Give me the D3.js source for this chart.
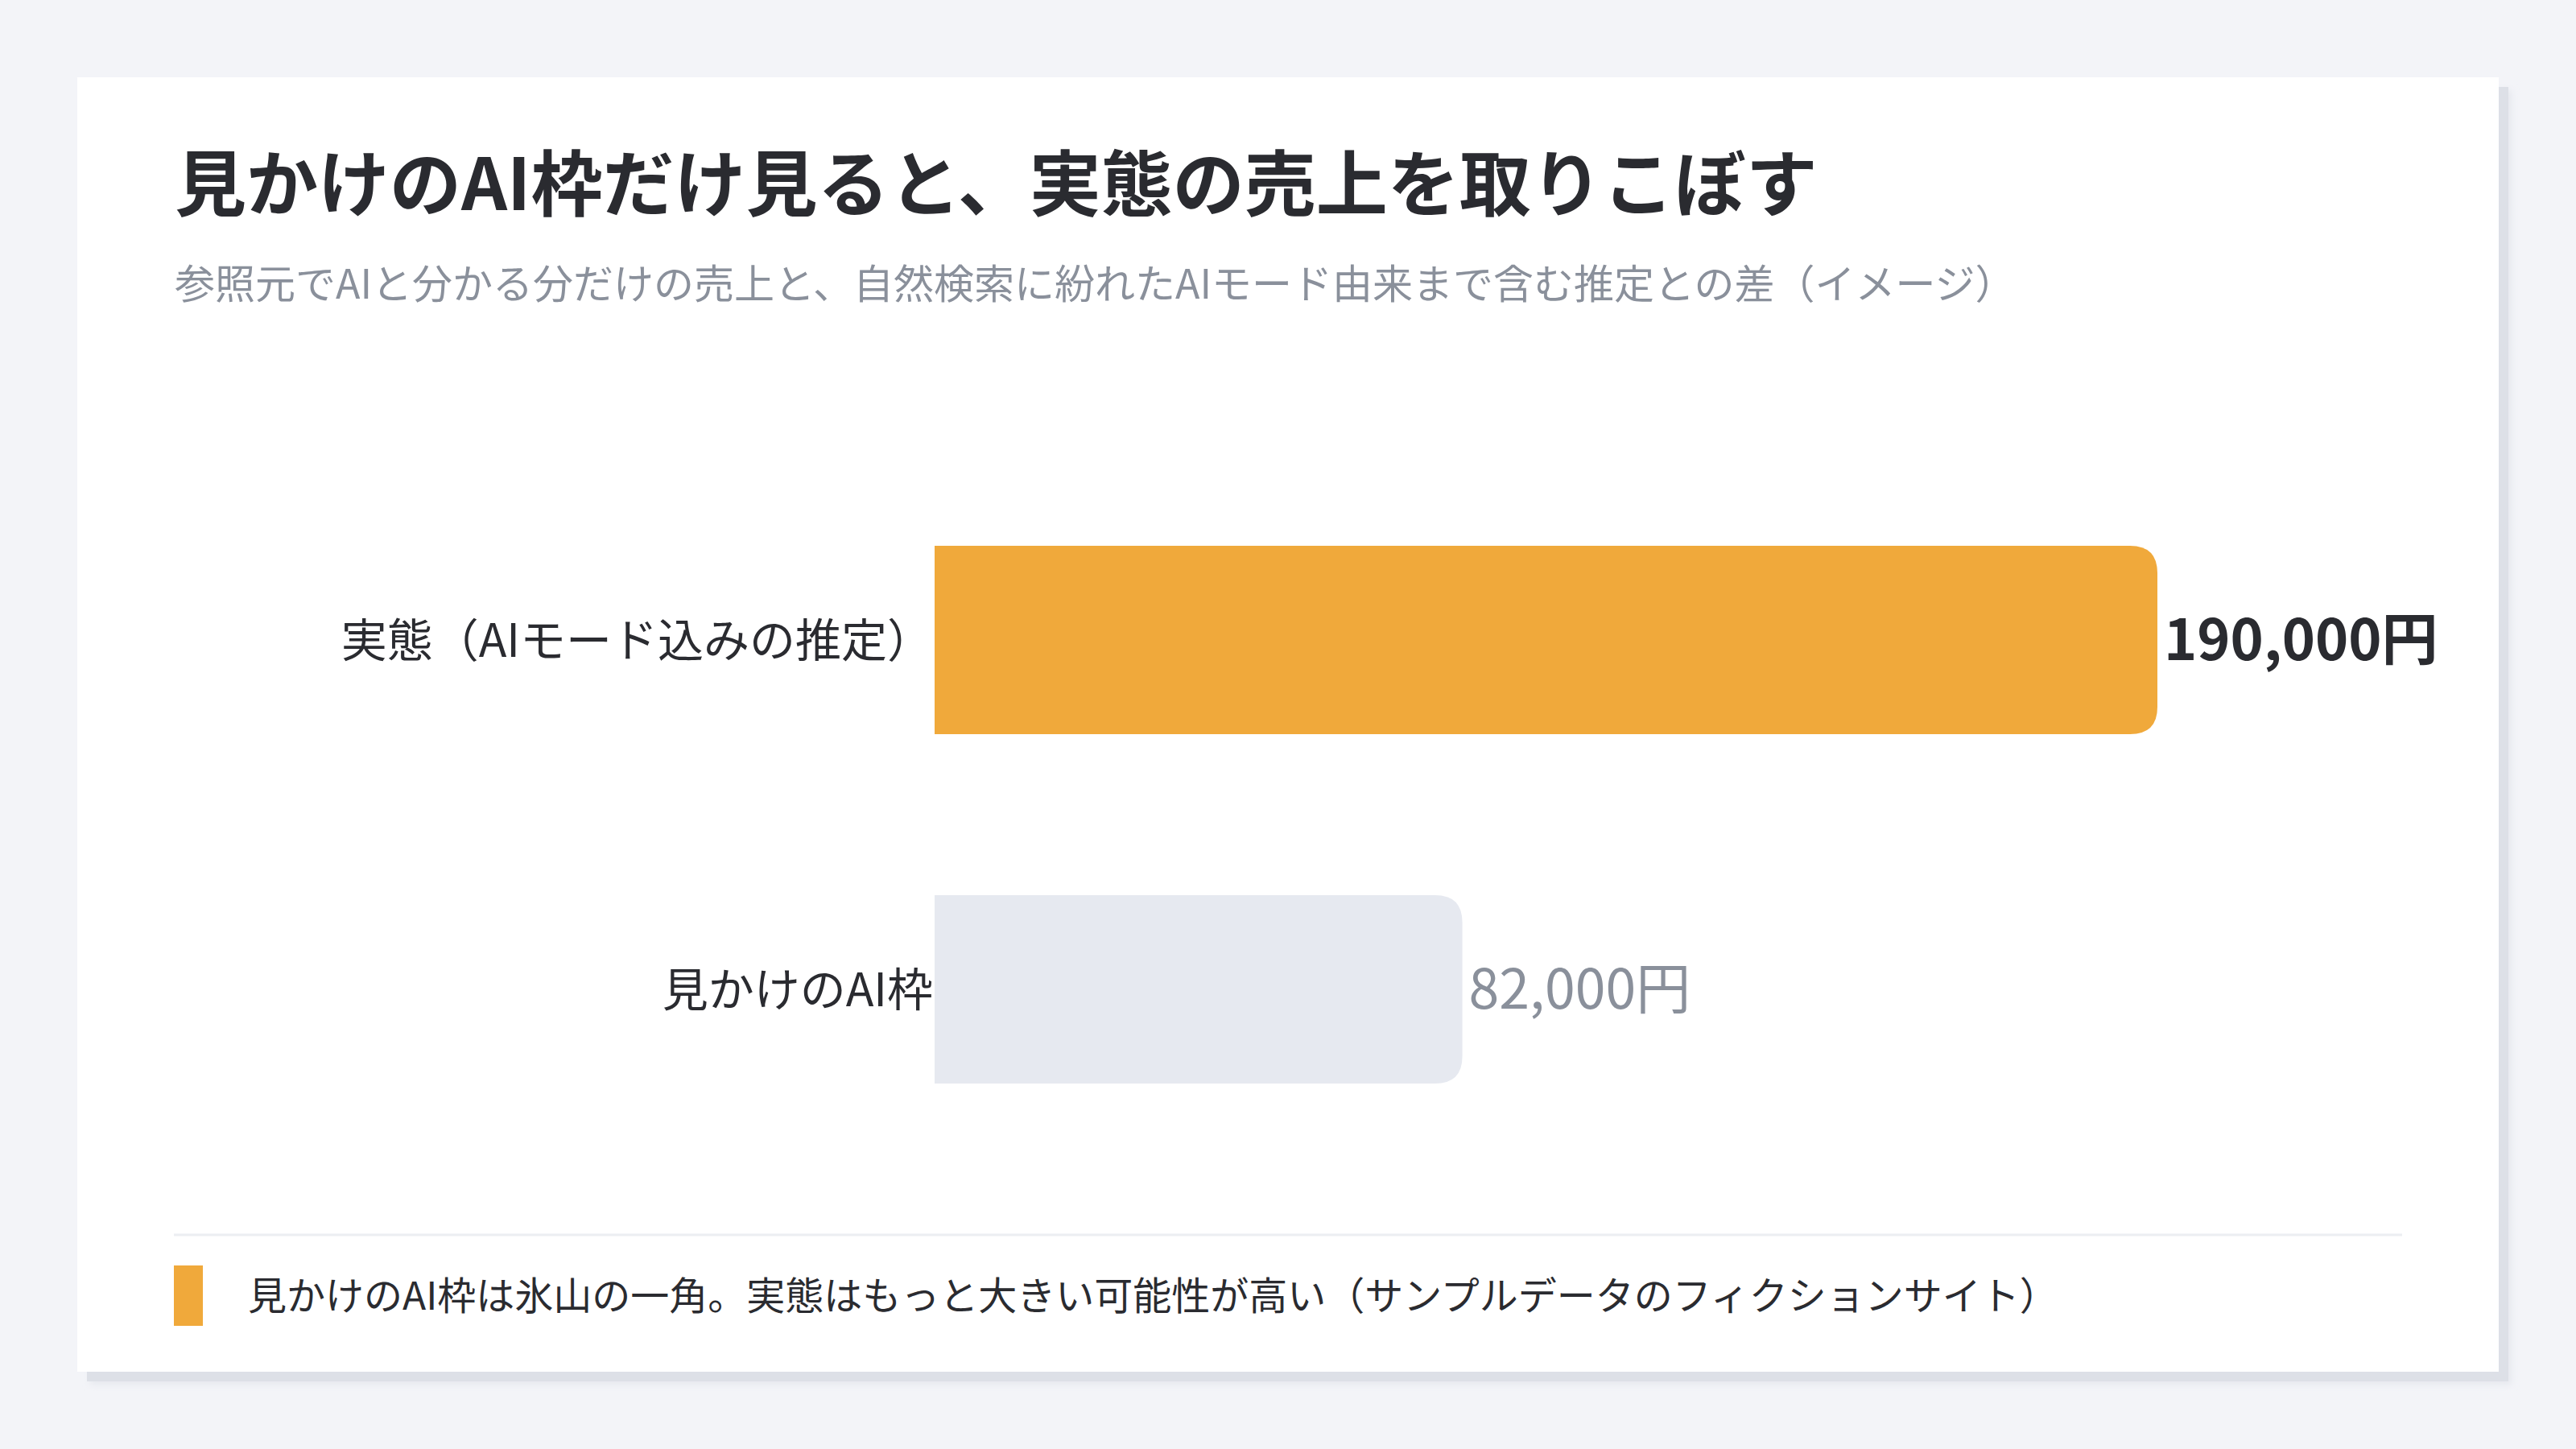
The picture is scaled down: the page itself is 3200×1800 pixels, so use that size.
<!DOCTYPE html>
<html>
<head>
<meta charset="utf-8">
<script src="https://cdn.jsdelivr.net/npm/d3@7"></script>
<style>
  html, body { margin: 0; padding: 0; background: #f3f4f8; }
  svg { display: block; font-family: "Noto Sans CJK JP", "Noto Sans", sans-serif; }
</style>
</head>
<body>
<div id="chart"></div>
<script>
// データ
const categories = ["実態（AIモード込みの推定）", "見かけのAI枠"];
const values = [190000, 82000];
const unit = "円";

const titleText = "見かけのAI枠だけ見ると、実態の売上を取りこぼす";
const subtitleText = "参照元でAIと分かる分だけの売上と、自然検索に紛れたAIモード由来まで含む推定との差（イメージ）";
const noteText = "見かけのAI枠は氷山の一角。実態はもっと大きい可能性が高い（サンプルデータのフィクションサイト）";

// 描画
function drawChart() {
  const width = 3200, height = 1800;
  const card = { x: 96, y: 96, w: 3008, h: 1608 };

  const svg = d3.select("#chart")
    .append("svg").attr("width", width).attr("height", height)
    .attr("viewBox", `0 0 ${width} ${height}`);

  const defs = svg.append("defs");
  defs.append("filter").attr("id", "blur")
    .attr("x", "-5%").attr("y", "-5%").attr("width", "110%").attr("height", "110%")
    .append("feGaussianBlur").attr("stdDeviation", 4);

  svg.append("rect").attr("width", width).attr("height", height).attr("fill", "#f3f4f8");

  // カードと影
  svg.append("rect")
    .attr("x", card.x + 16).attr("y", card.y + 16).attr("width", card.w).attr("height", card.h)
    .attr("fill", "#e6e8ee").attr("filter", "url(#blur)");
  svg.append("rect")
    .attr("x", card.x + 12).attr("y", card.y + 12).attr("width", card.w).attr("height", card.h)
    .attr("fill", "#dde0e7");
  svg.append("rect")
    .attr("x", card.x).attr("y", card.y).attr("width", card.w).attr("height", card.h)
    .attr("fill", "#ffffff");

  // タイトル
  svg.append("text")
    .attr("x", 217).attr("y", 261)
    .attr("font-size", 89).attr("font-weight", 700).attr("fill", "#2a2b30")
    .text(titleText);

  svg.append("text")
    .attr("x", 217).attr("y", 371)
    .attr("font-size", 50).attr("fill", "#8a909b")
    .text(subtitleText);

  // スケール
  const x = d3.scaleLinear().domain([0, d3.max(values)]).range([1161, 2680]);
  const y = d3.scaleBand().domain(categories).range([478, 1546]).paddingInner(0.4608).paddingOuter(0.4608);

  const barColor = ["#f0a93b", "#e6e9f0"];
  const valueColor = ["#2a2b30", "#8a909b"];
  const valueWeight = [700, 400];
  const valueSize = [70, 68];
  const r = 34;

  // 右側だけ角丸のバー
  function barPath(x0, x1, y0, h) {
    const rr = Math.min(r, (x1 - x0), h / 2);
    return `M${x0},${y0}H${x1 - rr}Q${x1},${y0} ${x1},${y0 + rr}` +
      `V${y0 + h - rr}Q${x1},${y0 + h} ${x1 - rr},${y0 + h}H${x0}Z`;
  }

  const rows = categories.map((c, i) => ({ name: c, value: values[i], i }));

  svg.selectAll(".bar")
    .data(rows)
    .join("path")
    .attr("class", "bar")
    .attr("d", d => barPath(x(0), x(d.value), y(d.name), y.bandwidth()))
    .attr("fill", d => barColor[d.i]);

  svg.selectAll(".cat")
    .data(rows)
    .join("text")
    .attr("class", "cat")
    .attr("x", x(0) - 2)
    .attr("y", d => y(d.name) + y.bandwidth() / 2)
    .attr("dy", "0.36em")
    .attr("text-anchor", "end")
    .attr("font-size", 57).attr("fill", "#2a2b30")
    .text(d => d.name);

  svg.selectAll(".val")
    .data(rows)
    .join("text")
    .attr("class", "val")
    .attr("x", d => x(d.value) + 8)
    .attr("y", d => y(d.name) + y.bandwidth() / 2)
    .attr("dy", "0.36em")
    .attr("font-size", d => valueSize[d.i])
    .attr("font-weight", d => valueWeight[d.i])
    .attr("fill", d => valueColor[d.i])
    .text(d => d3.format(",")(d.value) + unit);

  // 区切り線と注記
  svg.append("line")
    .attr("x1", 216).attr("x2", 2984).attr("y1", 1534).attr("y2", 1534)
    .attr("stroke", "#eceef2").attr("stroke-width", 3);

  svg.append("rect")
    .attr("x", 216).attr("y", 1572).attr("width", 36).attr("height", 75)
    .attr("fill", "#f0a93b");

  svg.append("text")
    .attr("x", 308).attr("y", 1610).attr("dy", "0.36em")
    .attr("font-size", 48).attr("fill", "#2a2b30")
    .text(noteText);
}

drawChart();
</script>
</body>
</html>
